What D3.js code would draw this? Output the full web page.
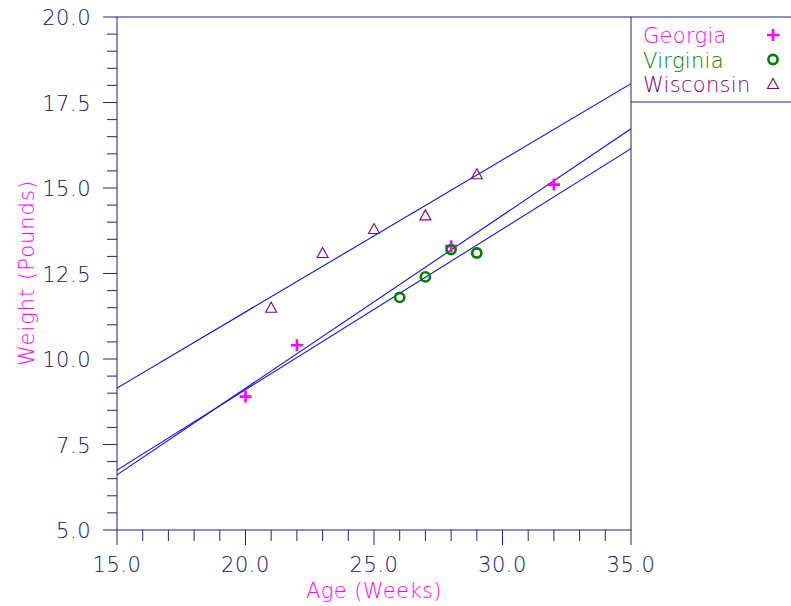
<!DOCTYPE html>
<html><head><meta charset="utf-8">
<script src="https://cdn.jsdelivr.net/npm/d3@7"></script>
<style>body{margin:0;background:#fff}svg{display:block}text{font-family:"DejaVu Sans",sans-serif;font-weight:200}</style>
</head><body>
<script>
const georgiaAge = [20, 22, 28, 32];
const georgiaWeight = [8.9, 10.4, 13.3, 15.1];
const virginiaAge = [26, 27, 28, 29];
const virginiaWeight = [11.8, 12.4, 13.2, 13.1];
const wisconsinAge = [21, 23, 25, 27, 29];
const wisconsinWeight = [11.5, 13.1, 13.8, 14.2, 15.4];
const seriesNames = ["Georgia", "Virginia", "Wisconsin"];
const xTicks = [15, 20, 25, 30, 35];
const yTicks = [5, 7.5, 10, 12.5, 15, 17.5, 20];

const W = 791, H = 606;
const L = 117, R = 631, T = 17, B = 530;
const axisCol = "#20208a";
const labelCol = "#12126e";
const series = [
  {name: seriesNames[0], x: georgiaAge, y: georgiaWeight, color: "#ff00ff", sym: "plus"},
  {name: seriesNames[1], x: virginiaAge, y: virginiaWeight, color: "#008000", sym: "circle"},
  {name: seriesNames[2], x: wisconsinAge, y: wisconsinWeight, color: "#800080", sym: "tri"}
];

const svg = d3.select("body").append("svg").attr("width", W).attr("height", H);
const x = d3.scaleLinear().domain([15, 35]).range([L, R]);
const y = d3.scaleLinear().domain([5, 20]).range([B, T]);

// frame
svg.append("rect").attr("x", L).attr("y", T).attr("width", R - L).attr("height", B - T)
  .attr("fill", "none").attr("stroke", axisCol).attr("stroke-width", 1);
// legend box
svg.append("path").attr("d", `M${R},${T}H${W + 2}M${R},102H${W + 2}`)
  .attr("fill", "none").attr("stroke", axisCol);

// x axis ticks
const xMinor = d3.range(15, 35.01, 1);
svg.append("g").selectAll("line").data(xMinor).join("line")
  .attr("x1", d => x(d)).attr("x2", d => x(d)).attr("y1", B)
  .attr("y2", d => (d % 5 === 0) ? B + 15 : B + 11)
  .attr("stroke", axisCol);
svg.append("g").selectAll("text").data(xTicks).join("text")
  .attr("x", d => x(d)).attr("y", 572).attr("text-anchor", "middle")
  .attr("font-size", 21).attr("letter-spacing", 0.5).attr("fill", labelCol).text(d => d.toFixed(1));

// y axis ticks
const yMinor = d3.range(5, 20.01, 0.5);
svg.append("g").selectAll("line").data(yMinor).join("line")
  .attr("y1", d => y(d)).attr("y2", d => y(d)).attr("x1", L)
  .attr("x2", d => (Math.abs(d / 2.5 - Math.round(d / 2.5)) < 1e-6) ? L - 14 : L - 10)
  .attr("stroke", axisCol);
svg.append("g").selectAll("text").data(yTicks).join("text")
  .attr("x", 91).attr("y", d => y(d) + 8).attr("text-anchor", "end")
  .attr("font-size", 21).attr("letter-spacing", 0.5).attr("fill", labelCol).text(d => d.toFixed(1));

// axis titles
svg.append("text").attr("x", 374).attr("y", 598).attr("text-anchor", "middle")
  .attr("font-size", 21).attr("letter-spacing", 0.4).attr("fill", "#ff00ff").text("Age (Weeks)");
svg.append("text").attr("transform", "translate(34,273) rotate(-90)").attr("text-anchor", "middle")
  .attr("font-size", 21).attr("letter-spacing", 1).attr("fill", "#ff00ff").text("Weight (Pounds)");

// regression lines
const clip = svg.append("clipPath").attr("id", "c").append("rect")
  .attr("x", L).attr("y", T).attr("width", R - L).attr("height", B - T);
function fit(xs, ys) {
  const mx = d3.mean(xs), my = d3.mean(ys);
  const sxy = d3.sum(xs, (v, i) => (v - mx) * (ys[i] - my));
  const sxx = d3.sum(xs, v => (v - mx) ** 2);
  const b = sxy / sxx;
  return v => my + b * (v - mx);
}
series.forEach(s => {
  const f = fit(s.x, s.y);
  svg.append("line").attr("clip-path", "url(#c)")
    .attr("x1", x(15)).attr("y1", y(f(15))).attr("x2", x(35)).attr("y2", y(f(35)))
    .attr("stroke", "#1010e0").attr("stroke-width", 1.1);
});

function drawSym(g, sym, color, cx, cy) {
  if (sym === "plus") {
    g.append("path").attr("d", `M${cx - 6},${cy}H${cx + 6}M${cx},${cy - 6}V${cy + 6}`)
      .attr("stroke", color).attr("stroke-width", 2.6).attr("fill", "none");
  } else if (sym === "circle") {
    g.append("circle").attr("cx", cx).attr("cy", cy).attr("r", 4.6)
      .attr("stroke", color).attr("stroke-width", 2.6).attr("fill", "none");
  } else {
    g.append("path").attr("d", `M${cx},${cy - 5.5}L${cx + 5.5},${cy + 4.5}L${cx - 5.5},${cy + 4.5}Z`)
      .attr("stroke", color).attr("stroke-width", 1.1).attr("fill", "none");
  }
}
const pts = svg.append("g");
series.forEach(s => {
  s.x.forEach((v, i) => drawSym(pts, s.sym, s.color, x(v), y(s.y[i])));
});

// legend
series.forEach((s, i) => {
  const cy = 35 + i * 24.5;
  svg.append("text").attr("x", 643).attr("y", cy + 8).attr("font-size", 21)
    .attr("letter-spacing", 0.3).attr("fill", s.color).text(s.name);
  drawSym(svg, s.sym, s.color, 773, cy);
});
</script>
</body></html>
